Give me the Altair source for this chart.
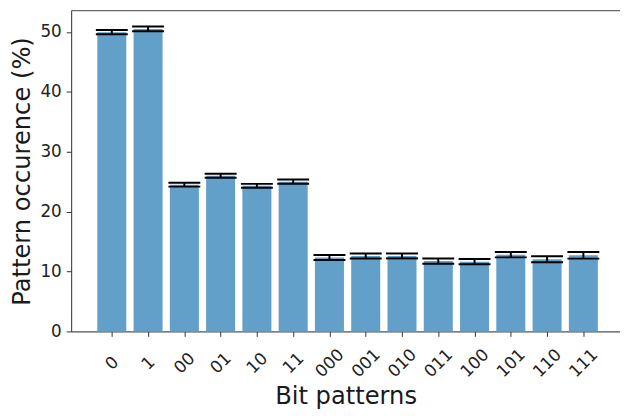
import altair as alt
import pandas as pd

patterns = ["0", "1", "00", "01", "10", "11", "000", "001", "010", "011", "100", "101", "110", "111"]
occurrence = [49.95, 50.5, 24.5, 26.0, 24.3, 25.0, 12.35, 12.6, 12.6, 11.75, 11.65, 12.8, 12.05, 12.7]
error = [0.36, 0.39, 0.33, 0.33, 0.33, 0.35, 0.41, 0.41, 0.41, 0.44, 0.44, 0.44, 0.49, 0.55]
y_ticks = [0, 10, 20, 30, 40, 50]

df = pd.DataFrame({
    "idx": list(range(len(patterns))),
    "pattern": patterns,
    "value": occurrence,
    "err": error,
})

W, H = 556, 325
FONT = "DejaVu Sans"
BLUE = "#62a0ca"

label_expr = "[" + ",".join("'%s'" % p for p in patterns) + "][datum.value]"

xscale = alt.Scale(domain=[-1.12, 14.01], nice=False, zero=False, padding=0)
yscale = alt.Scale(domain=[0, 53.55], nice=False, padding=0)

base = alt.Chart(df).transform_calculate(
    x0="datum.idx - 0.4",
    x1="datum.idx + 0.4",
    c0="datum.idx - 0.44",
    c1="datum.idx + 0.44",
    lo="datum.value - datum.err",
    hi="datum.value + datum.err",
)

xaxis = alt.Axis(
    values=list(range(len(patterns))),
    labelExpr=label_expr,
    title="Bit patterns",
    titleFont=FONT, titleFontSize=24.5, titleFontWeight="normal", titleColor="#1a1a1a",
    titleY=73, titleBaseline="alphabetic",
    labelFont=FONT, labelFontSize=17, labelColor="#222222",
    labelAngle=-45, labelAlign="center", labelBaseline="middle", labelPadding=27,
    tickSize=5, tickColor="#333333", domainColor="#333333", domainWidth=1,
    grid=False, labelFlush=False, labelOverlap=False,
)
yaxis = alt.Axis(
    values=y_ticks,
    title="Pattern occurence (%)",
    titleFont=FONT, titleFontSize=24.5, titleFontWeight="normal", titleColor="#1a1a1a",
    titleX=-42, titleBaseline="alphabetic",
    labelFont=FONT, labelFontSize=17, labelColor="#222222", labelPadding=5,
    tickSize=5, tickColor="#333333", domainColor="#333333", domainWidth=1,
    grid=False,
)

bars = base.mark_bar(color=BLUE).encode(
    x=alt.X("x0:Q", scale=xscale, axis=xaxis),
    x2="x1:Q",
    y=alt.Y("value:Q", scale=yscale, axis=yaxis),
    y2=alt.datum(0),
)

stems = base.mark_rule(color="black", strokeWidth=2).encode(
    x=alt.X("idx:Q", scale=xscale),
    y=alt.Y("lo:Q", scale=yscale),
    y2="hi:Q",
)
cap_hi = base.mark_rule(color="black", strokeWidth=2).encode(
    x=alt.X("c0:Q", scale=xscale),
    x2="c1:Q",
    y=alt.Y("hi:Q", scale=yscale),
)
cap_lo = base.mark_rule(color="black", strokeWidth=2).encode(
    x=alt.X("c0:Q", scale=xscale),
    x2="c1:Q",
    y=alt.Y("lo:Q", scale=yscale),
)

top_line = alt.Chart(pd.DataFrame({"a": [0]})).mark_rule(
    color="#555555", strokeWidth=1
).encode(y=alt.value(0), x=alt.value(0), x2=alt.value(W))

chart = alt.layer(bars, stems, cap_hi, cap_lo, top_line).properties(
    width=W,
    height=H,
    autosize=alt.AutoSizeParams(type="none"),
    padding={"left": 64, "top": 0, "right": 0, "bottom": 81},
).configure_view(stroke=None).configure(background="white")

chart.save("out.html", embed_options={"renderer": "svg", "actions": False})
